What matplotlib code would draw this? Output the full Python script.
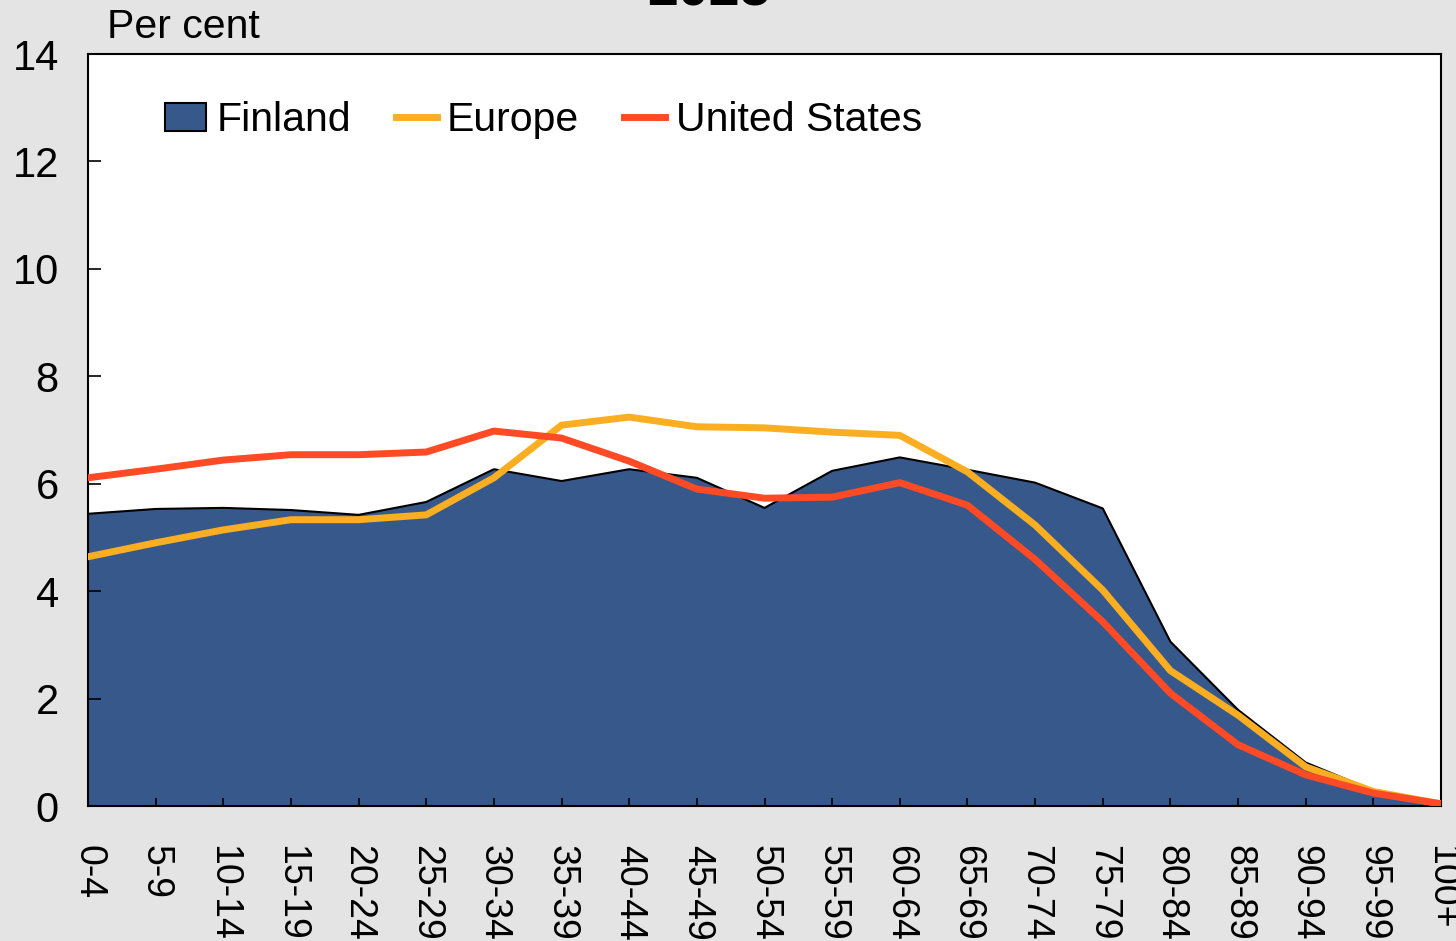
import matplotlib
matplotlib.use("Agg")
import matplotlib.pyplot as plt
from matplotlib.patches import Patch
from matplotlib.lines import Line2D

plt.rcParams['font.family'] = ['Liberation Sans', 'DejaVu Sans']

age_groups = ['0-4', '5-9', '10-14', '15-19', '20-24', '25-29', '30-34', '35-39',
              '40-44', '45-49', '50-54', '55-59', '60-64', '65-69', '70-74', '75-79',
              '80-84', '85-89', '90-94', '95-99', '100+']
finland = [5.44, 5.53, 5.55, 5.51, 5.42, 5.66, 6.27, 6.05, 6.27, 6.11, 5.55, 6.24,
           6.49, 6.26, 6.02, 5.54, 3.06, 1.79, 0.81, 0.29, 0.05]
europe = [4.64, 4.90, 5.14, 5.33, 5.33, 5.42, 6.11, 7.09, 7.24, 7.06, 7.04, 6.96,
          6.90, 6.22, 5.23, 4.02, 2.52, 1.69, 0.73, 0.27, 0.04]
united_states = [6.11, 6.27, 6.44, 6.54, 6.54, 6.59, 6.98, 6.85, 6.42, 5.90, 5.73, 5.75,
                 6.02, 5.60, 4.59, 3.43, 2.10, 1.14, 0.58, 0.24, 0.04]
y_ticks = [0, 2, 4, 6, 8, 10, 12, 14]

FIN_C = '#37588A'
EUR_C = '#FBAE22'
US_C = '#FF4A26'
BG = '#E3E4E3'

fig = plt.figure(figsize=(14.56, 9.41), dpi=100, facecolor=BG)
ax = fig.add_axes([88/1456, 1-806/941, (1441-88)/1456, (806-54)/941])
ax.set_facecolor('white')

x = list(range(len(age_groups)))
ax.fill_between(x, 0, finland, facecolor=FIN_C, edgecolor='none', zorder=1)
ax.plot(x, finland, color='black', lw=1.5, zorder=2)
ax.plot(x, europe, color=EUR_C, lw=5, zorder=3)
ax.plot(x, united_states, color=US_C, lw=5, zorder=4)

ax.set_xlim(0, len(age_groups)-1)
ax.set_ylim(0, 14)
ax.set_yticks(y_ticks)
ax.set_yticklabels([str(v) for v in y_ticks])
ax.set_xticks(x)
ax.set_xticklabels(age_groups, rotation=-90, va='top', ha='center')
ax.tick_params(axis='y', direction='in', length=9, width=1.2, labelsize=30, pad=21)
ax.tick_params(axis='x', direction='in', length=6, width=1.2, labelsize=27, pad=28)
for s in ax.spines.values():
    s.set_linewidth(1.5)
    s.set_color('black')

fig.text(107/1456, 1-38/941, 'Per cent', fontsize=29.5, ha='left', va='baseline')
fig.text(709/1456, 1-6/941, '2025', fontsize=40, fontweight='bold',
         ha='center', va='baseline')

handles = [Patch(facecolor=FIN_C, edgecolor='black', linewidth=1.5),
           Line2D([], [], color=EUR_C, lw=5),
           Line2D([], [], color=US_C, lw=5)]
ax.legend(handles, ['Finland', 'Europe', 'United States'], loc='center left',
          bbox_to_anchor=((165-88)/1353, (806-120)/752), ncol=3, frameon=False,
          fontsize=29.5, handlelength=1.0, handleheight=0.68, handletextpad=0.25,
          columnspacing=1.1, borderpad=0, borderaxespad=0)

fig.savefig('out.png', dpi=100, facecolor=BG)
